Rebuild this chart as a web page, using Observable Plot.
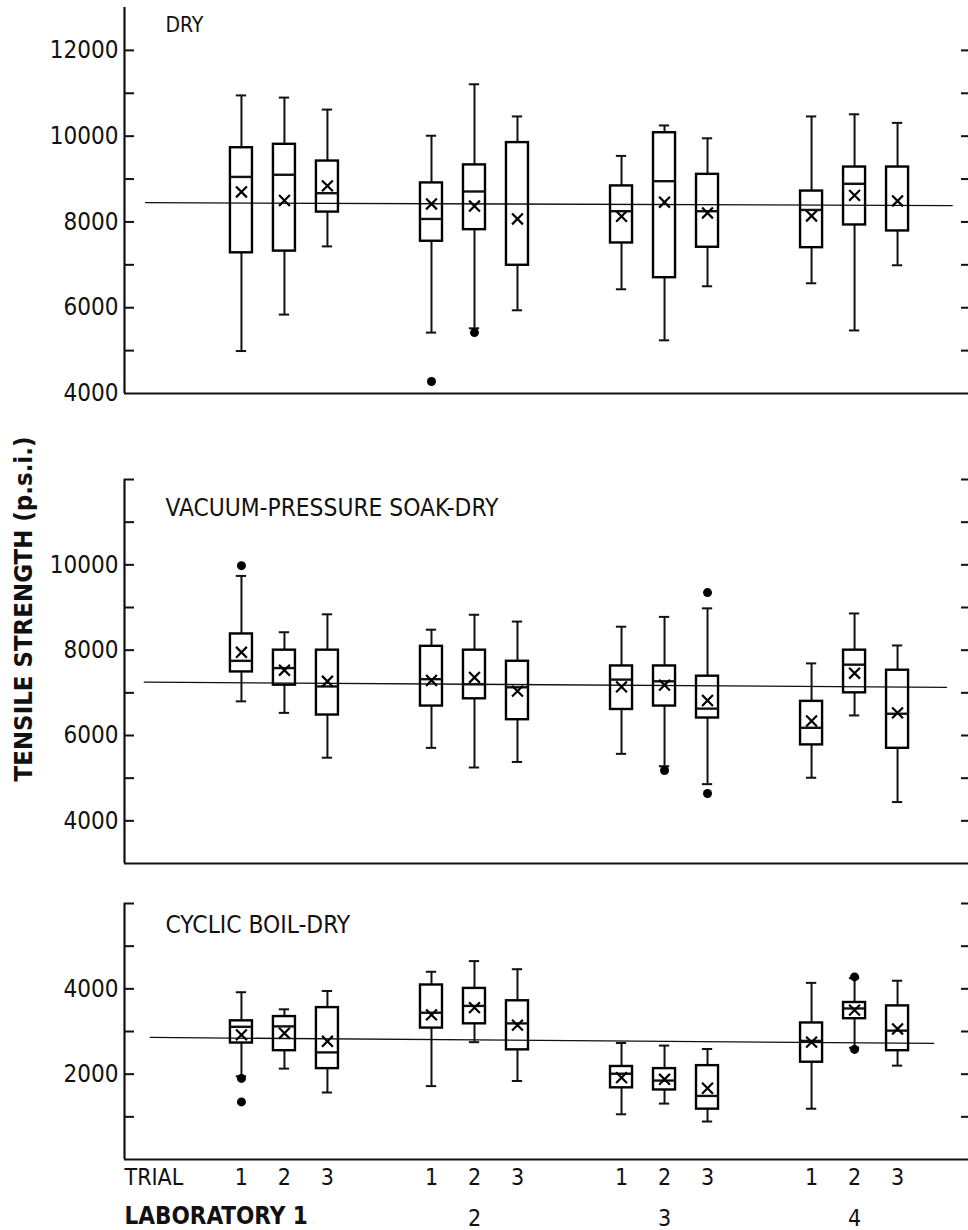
<!DOCTYPE html>
<html><head><meta charset="utf-8">
<script src="https://cdn.jsdelivr.net/npm/d3@7"></script>
<script src="https://cdn.jsdelivr.net/npm/@observablehq/plot@0.6"></script>
<style>
body{margin:0;background:#fff;}
#wrap{position:relative;width:968px;height:1230px;overflow:hidden;background:#fff;}
#wrap svg{display:block;}
#ytitle{position:absolute;z-index:2;left:23px;top:609px;transform:translate(-50%,-50%) rotate(-90deg);
  font-family:"DejaVu Sans Condensed","DejaVu Sans",sans-serif;font-stretch:condensed;font-weight:bold;font-size:25.5px;white-space:nowrap;color:#111;}
</style></head><body><div id="wrap"><div id="ytitle">TENSILE STRENGTH (p.s.i.)</div></div>
<script>
// ---- categories ----
const labs   = [1,1,1, 2,2,2, 3,3,3, 4,4,4];
const trials = [1,2,3, 1,2,3, 1,2,3, 1,2,3];
const labLabels = ["LABORATORY 1", "2", "3", "4"];

// ---- DRY ----
const dryHi   = [10950,10900,10620, 10010,11210,10460, 9540,10250,9950, 10460,10510,10310];
const dryQ3   = [9730,9810,9420, 8910,9330,9850, 8840,10080,9110, 8720,9280,9280];
const dryMed  = [9050,9100,8670, 8070,8710,null, 8250,8950,8250, 8280,8890,null];
const dryQ1   = [7280,7320,8230, 7550,7820,6990, 7510,6700,7410, 7400,7930,7790];
const dryLo   = [4990,5840,7430, 5420,5520,5940, 6430,5240,6500, 6570,5470,6990];
const dryMean = [8700,8500,8840, 8420,8370,8070, 8130,8460,8210, 8140,8620,8490];
const dryOutLab = [2,2]; const dryOutTrial = [1,2]; const dryOutVal = [4280,5420];
const dryRef = [8450, 8380];

// ---- VACUUM-PRESSURE SOAK-DRY ----
const vacHi   = [9740,8420,8840, 8480,8830,8670, 8550,8780,8980, 7690,8860,8110];
const vacQ3   = [8380,8000,8000, 8090,8000,7740, 7630,7630,7390, 6800,8000,7530];
const vacMed  = [7750,7580,7150, 7320,7200,7130, 7310,7270,6630, 6180,7660,6510];
const vacQ1   = [7490,7180,6480, 6690,6860,6370, 6610,6690,6410, 5780,7000,5700];
const vacLo   = [6800,6530,5480, 5710,5250,5380, 5570,5280,4860, 5010,6470,4440];
const vacMean = [7950,7530,7270, 7290,7360,7040, 7140,7180,6820, 6340,7460,6530];
const vacOutLab = [1,3,3,3]; const vacOutTrial = [1,2,3,3]; const vacOutVal = [9980,5180,9350,4640];
const vacRef = [7250, 7130];

// ---- CYCLIC BOIL-DRY ----
const cycHi   = [3920,3520,3950, 4400,4650,4460, 2730,2670,2590, 4140,4250,4190];
const cycQ3   = [3250,3350,3560, 4090,4010,3720, 2180,2130,2200, 3200,3680,3600];
const cycMed  = [3110,3120,2510, 3440,3600,3190, 2010,1850,1490, 2780,3540,3020];
const cycQ1   = [2730,2550,2130, 3080,3180,2570, 1680,1630,1180, 2280,3300,2550];
const cycLo   = [1950,2130,1570, 1720,2750,1840, 1060,1310,890, 1190,2620,2200];
const cycMean = [2920,2960,2770, 3390,3560,3150, 1920,1880,1670, 2750,3500,3060];
const cycOutLab = [1,1,4,4]; const cycOutTrial = [1,1,2,2]; const cycOutVal = [1900,1350,4280,2580];
const cycRef = [2860, 2720];

// ---- layout helpers ----
const LAB_GAP = 4.42;
const posOf = (lab, trial) => (lab - 1) * LAB_GAP + (trial - 1);
const xDomain = [-2.72, 16.91];
const BOX = 0.256, CAP = 0.12;
const FONT = '"DejaVu Sans Condensed","DejaVu Sans",sans-serif';

function makeRows(hi,q3,med,q1,lo,mean){
  return labs.map((lab,i)=>({lab, trial: trials[i], pos: posOf(lab, trials[i]),
    hi: hi[i], q3: q3[i], med: med[i], q1: q1[i], lo: lo[i], mean: mean[i]}));
}
function makeOut(L,T,V){ return V.map((v,i)=>({pos: posOf(L[i],T[i]), v})); }

function panel(o){
  const rows = makeRows(o.hi,o.q3,o.med,o.q1,o.lo,o.mean);
  const out = makeOut(o.oL,o.oT,o.oV);
  const ref = [{pos: o.refX[0], v: o.ref[0]}, {pos: o.refX[1], v: o.ref[1]}];
  const leftTicks = d3.range(o.yDomain[0], o.yDomain[1] + 1, 1000).filter(t => !o.skipLeft.includes(t));
  const marks = [
    Plot.ruleX([xDomain[0]], {y1: o.yDomain[0], y2: o.yDomain[1], strokeWidth: 2.2}),
    Plot.ruleY([o.yDomain[0]], {strokeWidth: 2.2}),
    Plot.axisY(leftTicks, {anchor: "left", tickSize: -10, tickFormat: () => "", strokeWidth: 2, label: null}),
    Plot.axisY(o.major, {anchor: "left", tickSize: 0, tickPadding: 6, tickFormat: d => String(d), label: null, fontSize: 24}),
    Plot.axisY(o.rightTicks, {anchor: "right", tickSize: -8, tickFormat: () => "", strokeWidth: 2, label: null}),
    Plot.line(ref, {x: "pos", y: "v", strokeWidth: 1.3}),
    Plot.ruleX(rows, {x: "pos", y1: "q3", y2: "hi", strokeWidth: 2}),
    Plot.ruleX(rows, {x: "pos", y1: "lo", y2: "q1", strokeWidth: 2}),
    Plot.ruleY(rows, {y: "hi", x1: d => d.pos - CAP, x2: d => d.pos + CAP, strokeWidth: 2}),
    Plot.ruleY(rows, {y: "lo", x1: d => d.pos - CAP, x2: d => d.pos + CAP, strokeWidth: 2}),
    Plot.rect(rows, {x1: d => d.pos - BOX, x2: d => d.pos + BOX, y1: "q1", y2: "q3", fill: "none", stroke: "black", strokeWidth: 2.4}),
    Plot.ruleY(rows.filter(d => d.med != null), {y: "med", x1: d => d.pos - BOX, x2: d => d.pos + BOX, strokeWidth: 2.4}),
    Plot.dot(rows, {x: "pos", y: "mean", symbol: "times", r: 5, stroke: "black", strokeWidth: 2.2}),
    Plot.dot(out, {x: "pos", y: "v", r: 4.5, fill: "black", stroke: "none"}),
    Plot.text([o.title], {text: d => d, frameAnchor: "top-left", dx: 41, dy: o.titleDy, textAnchor: "start", lineAnchor: "middle", fontSize: o.titleSize})
  ];
  if (o.showX) {
    marks.push(
      Plot.text(rows, {x: "pos", text: d => String(d.trial), frameAnchor: "bottom", dy: 18, lineAnchor: "middle", fontSize: 23}),
      Plot.text(["TRIAL"], {text: d => d, frameAnchor: "bottom-left", dy: 18, textAnchor: "start", lineAnchor: "middle", fontSize: 23}),
      Plot.text([labLabels[0]], {text: d => d, frameAnchor: "bottom-left", dy: 57, textAnchor: "start", lineAnchor: "middle",
        fontSize: 24, fontWeight: "bold", fontFamily: '"DejaVu Sans",sans-serif', fontStretch: "normal"}),
      Plot.text(labLabels.slice(1).map((t,i)=>({t, pos: posOf(i+2, 2)})), {x: "pos", text: "t", frameAnchor: "bottom", dy: 59, lineAnchor: "middle", fontSize: 23})
    );
  }
  return Plot.plot({
    width: 968, height: o.height, marginLeft: 124, marginRight: 0, marginTop: o.mt, marginBottom: o.mb,
    x: {domain: xDomain, axis: null},
    y: {domain: o.yDomain, axis: null, label: null},
    style: {fontFamily: FONT, fontSize: "23px", fontStretch: "condensed", color: "#111", background: "white", overflow: "visible"},
    marks
  });
}

const wrap = document.getElementById("wrap");
wrap.appendChild(panel({title: "DRY", titleSize: 21, titleDy: 18, hi: dryHi, q3: dryQ3, med: dryMed, q1: dryQ1, lo: dryLo, mean: dryMean,
  oL: dryOutLab, oT: dryOutTrial, oV: dryOutVal, ref: dryRef, refX: [-2.23, 16.53],
  yDomain: [4000, 13000], skipLeft: [4000, 13000], major: [4000, 6000, 8000, 10000, 12000],
  rightTicks: [5000,6000,7000,8000,9000,10000,11000,12000], height: 403, mt: 7, mb: 10}));
wrap.appendChild(panel({title: "VACUUM-PRESSURE SOAK-DRY", titleSize: 24.3, titleDy: 29, hi: vacHi, q3: vacQ3, med: vacMed, q1: vacQ1, lo: vacLo, mean: vacMean,
  oL: vacOutLab, oT: vacOutTrial, oV: vacOutVal, ref: vacRef, refX: [-2.26, 16.4],
  yDomain: [3000, 12000], skipLeft: [3000], major: [4000, 6000, 8000, 10000],
  rightTicks: [4000,5000,6000,7000,8000,9000,10000,11000,12000], height: 470, mt: 76, mb: 10}));
wrap.appendChild(panel({title: "CYCLIC BOIL-DRY", titleSize: 24.3, titleDy: 22, hi: cycHi, q3: cycQ3, med: cycMed, q1: cycQ1, lo: cycLo, mean: cycMean,
  oL: cycOutLab, oT: cycOutTrial, oV: cycOutVal, ref: cycRef, refX: [-2.12, 16.1],
  yDomain: [0, 6000], skipLeft: [0], major: [2000, 4000],
  rightTicks: [1000,2000,3000,4000,5000,6000], height: 357, mt: 30, mb: 71, showX: true}));
</script>
</body></html>
